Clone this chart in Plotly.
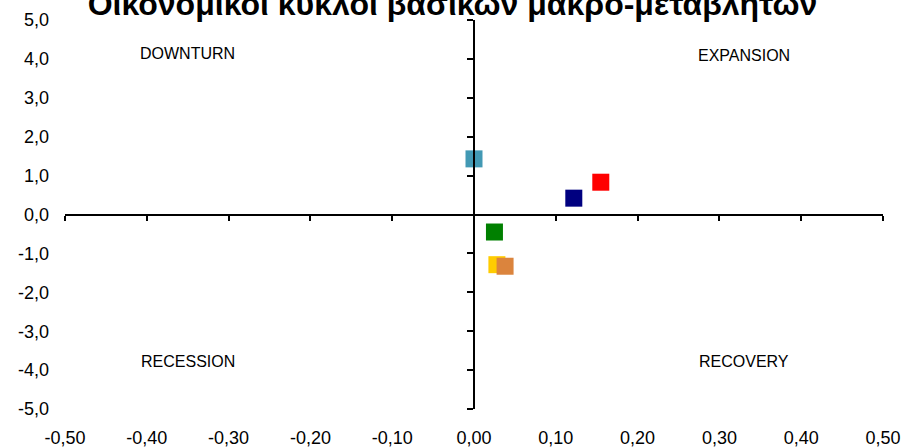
import plotly.graph_objects as go

# Data
x_vals = [0.000, 0.155, 0.122, 0.025, 0.028, 0.038]
y_vals = [1.43, 0.83, 0.42, -0.45, -1.29, -1.33]
colors = ["#4299B4", "#FF0000", "#000080", "#008000", "#FFCC00", "#DB843D"]

x_tickvals = [-0.5, -0.4, -0.3, -0.2, -0.1, 0.0, 0.1, 0.2, 0.3, 0.4, 0.5]
x_ticktext = ["-0,50", "-0,40", "-0,30", "-0,20", "-0,10", "0,00",
              "0,10", "0,20", "0,30", "0,40", "0,50"]
y_tickvals = [5, 4, 3, 2, 1, 0, -1, -2, -3, -4, -5]
y_ticktext = ["5,0", "4,0", "3,0", "2,0", "1,0", "0,0",
              "-1,0", "-2,0", "-3,0", "-4,0", "-5,0"]

quad_labels = ["DOWNTURN", "EXPANSION", "RECESSION", "RECOVERY"]
quad_x = [-0.35, 0.33, -0.35, 0.33]
quad_y = [4.13, 4.09, -3.79, -3.79]

title_text = "Οικονομικοί κύκλοι βασικών μακρο-μεταβλητών"

FONT = "Liberation Sans, Arial, sans-serif"

fig = go.Figure()
for xv, yv, c in zip(x_vals, y_vals, colors):
    fig.add_trace(go.Scatter(
        x=[xv], y=[yv], mode="markers",
        marker=dict(symbol="square", size=17, color=c, line=dict(width=0)),
        showlegend=False, hoverinfo="skip"))

# invisible trace on the crossing axes so they are drawn
fig.add_trace(go.Scatter(x=[0], y=[0], xaxis="x2", yaxis="y2", mode="markers",
                         marker=dict(opacity=0), showlegend=False, hoverinfo="skip"))

for t, xx, yy in zip(quad_labels, quad_x, quad_y):
    fig.add_annotation(x=xx, y=yy, text=t, showarrow=False,
                       font=dict(family=FONT, size=16, color="#000000"))

fig.update_layout(
    width=905, height=448,
    margin=dict(l=65, r=22, t=20, b=39, autoexpand=False),
    paper_bgcolor="white", plot_bgcolor="white",
    separators=",.",
    font=dict(family=FONT, size=18, color="#000000"),
    title=dict(text=title_text, x=0.5, xref="container", xanchor="center",
               y=0.992, yref="container", yanchor="middle",
               font=dict(family=FONT, size=32, color="#000000", weight="bold")),
    xaxis=dict(range=[-0.5, 0.5], tickmode="array", tickvals=x_tickvals,
               ticktext=x_ticktext,
               showgrid=False, zeroline=False, showline=False, ticks="",
               ticklabelstandoff=16, automargin=False, fixedrange=True),
    yaxis=dict(range=[-5, 5], tickmode="array", tickvals=y_tickvals,
               ticktext=y_ticktext,
               showgrid=False, zeroline=False, showline=False, ticks="",
               ticklabelstandoff=15, automargin=False, fixedrange=True),
    xaxis2=dict(range=[-0.5, 0.5], dtick=0.1, tick0=0, overlaying="x",
                anchor="free", position=0.5, side="bottom",
                showgrid=False, zeroline=False, showline=True, linewidth=2,
                linecolor="#000000", ticks="outside", ticklen=5, tickwidth=1.5,
                tickcolor="#000000", showticklabels=False, automargin=False),
    yaxis2=dict(range=[-5, 5], dtick=1, tick0=0, overlaying="y",
                anchor="free", position=0.5, side="left",
                showgrid=False, zeroline=False, showline=True, linewidth=2,
                linecolor="#000000", ticks="outside", ticklen=6, tickwidth=1.5,
                tickcolor="#000000", showticklabels=False, automargin=False),
)

fig.write_html("out.html")
